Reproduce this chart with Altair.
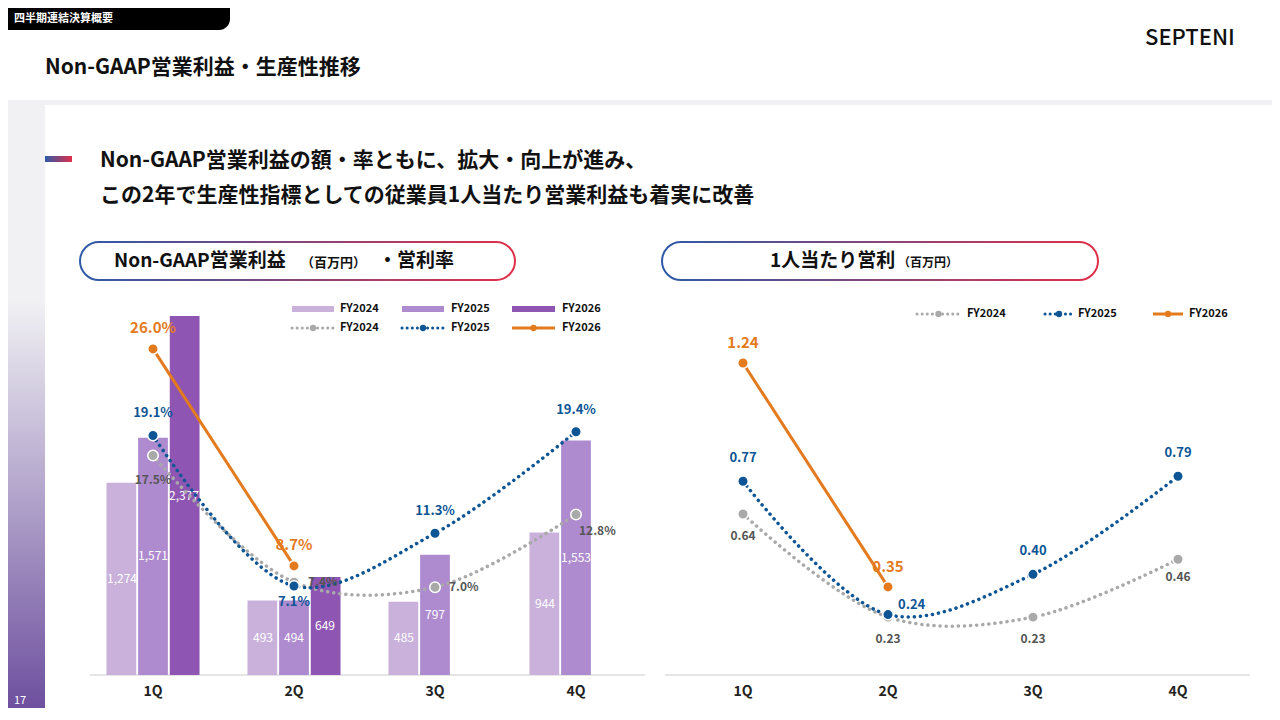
import altair as alt
import pandas as pd

FONT = "Noto Sans CJK JP"

quarters = ["1Q", "2Q", "3Q", "4Q"]
years = ["FY2024", "FY2025", "FY2026"]

# 営業利益（百万円）
profit_fy2024 = [1274, 493, 485, 944]
profit_fy2025 = [1571, 494, 797, 1553]
profit_fy2026 = [2377, 649]

# 営利率（%）
rate_fy2024 = [17.5, 7.4, 7.0, 12.8]
rate_fy2025 = [19.1, 7.1, 11.3, 19.4]
rate_fy2026 = [26.0, 8.7]

# 1人当たり営利（百万円）
per_fy2024 = [0.64, 0.23, 0.23, 0.46]
per_fy2025 = [0.77, 0.24, 0.40, 0.79]
per_fy2026 = [1.24, 0.35]

bar_colors = ["#c9b1dc", "#ae8ace", "#8e56b2"]
line_colors = {"FY2024": "#a9a9a9", "FY2025": "#0d5595", "FY2026": "#e47a1e"}


def P(v):
    return v - 8


def long(series, key):
    rows = []
    for y, vals in zip(years, series):
        for q, v in zip(quarters, vals):
            rows.append({"q": q, "year": y, key: v})
    return pd.DataFrame(rows)


bars = long([profit_fy2024, profit_fy2025, profit_fy2026], "v")
rates = long([rate_fy2024, rate_fy2025, rate_fy2026], "r")
per = long([per_fy2024, per_fy2025, per_fy2026], "p")

# scales
xb = alt.Scale(domain=quarters, range=[P(82.5), P(646.5)], paddingInner=0.34, paddingOuter=0.17)
xo = alt.Scale(domain=years, paddingInner=0.06)
yb = alt.Scale(domain=[0, 2550], range=[P(675), P(290)])
xl = alt.Scale(type="point", domain=quarters, range=[P(153), P(576)], padding=0)
yl = alt.Scale(domain=[0, 30.7], range=[P(675), P(290)])
xr = alt.Scale(type="point", domain=quarters, range=[P(743), P(1178)], padding=0)
yr = alt.Scale(domain=[0, 1.53], range=[P(675), P(290)])


def deco_text(t, x, y, size=13, color="#111", weight="bold", align="left"):
    return alt.Chart(pd.DataFrame({"t": [t]})).mark_text(
        font=FONT, fontSize=size, color=color, fontWeight=weight, align=align,
        baseline="middle",
    ).encode(text="t:N", x=alt.value(P(x)), y=alt.value(P(y)))


def deco_rect(x, x2, y, y2, **kw):
    return alt.Chart(pd.DataFrame({"a": [0]})).mark_rect(**kw).encode(
        x=alt.value(P(x)), x2=alt.value(P(x2)), y=alt.value(P(y)), y2=alt.value(P(y2)))


def deco_rule(x, x2, y, **kw):
    return alt.Chart(pd.DataFrame({"a": [0]})).mark_rule(**kw).encode(
        x=alt.value(P(x)), x2=alt.value(P(x2)), y=alt.value(P(y)))


def deco_dot(x, y, color, size=40):
    return alt.Chart(pd.DataFrame({"a": [0]})).mark_point(
        filled=True, size=size, color=color, opacity=1).encode(
        x=alt.value(P(x)), y=alt.value(P(y)))


grad = alt.Gradient(gradient="linear", x1=0, x2=1, y1=0, y2=0,
                    stops=[alt.GradientStop(color="#2e5aa8", offset=0),
                           alt.GradientStop(color="#e0304a", offset=1)])

layers = []
layers.append(deco_rect(0, 1280, 100, 720, color="#f1f1f4"))
layers.append(deco_rect(45, 1280, 105, 720, color="#ffffff"))
layers.append(deco_rect(0, 45, 300, 720, color=alt.Gradient(
    gradient="linear", x1=0, x2=0, y1=0, y2=1,
    stops=[alt.GradientStop(color="#f1f1f4", offset=0),
           alt.GradientStop(color="#6a4b9c", offset=1)])))
layers.append(deco_rect(8, 230, 8, 30, color="#000", cornerRadiusBottomRight=14))
layers.append(deco_text("四半期連結決算概要", 14, 19, size=11, color="#fff"))
layers.append(deco_text("Non-GAAP営業利益・生産性推移", 45, 68, size=21))
layers.append(deco_text("SEPTENI", 1145, 38, size=22, weight=500))
layers.append(deco_text("17", 14, 701, size=11, color="#fff", weight="normal"))
layers.append(deco_rect(45, 72, 156, 162, color=grad))
layers.append(deco_text("Non-GAAP営業利益の額・率ともに、拡大・向上が進み、", 100, 161, size=21))
layers.append(deco_text("この2年で生産性指標としての従業員1人当たり営業利益も着実に改善", 100, 196, size=21))

# panel pills
layers.append(deco_rect(80, 515, 242, 280, fill="#fff", stroke=grad, strokeWidth=2, cornerRadius=19))
layers.append(deco_rect(662, 1098, 242, 280, fill="#fff", stroke=grad, strokeWidth=2, cornerRadius=19))
layers.append(deco_text("Non-GAAP営業利益", 114, 261, size=19))
layers.append(deco_text("（百万円）", 301, 263, size=13))
layers.append(deco_text("・営利率", 378, 261, size=19))
layers.append(deco_text("1人当たり営利", 770, 261, size=19))
layers.append(deco_text("（百万円）", 898, 263, size=12))

# legends
lg = [(292, 334, 340), (402, 444, 451), (512, 555, 562)]
for (a, b, t), c, y in zip(lg, bar_colors, years):
    layers.append(deco_rect(a, b, 306, 312, color=c))
    layers.append(deco_text(y, t, 309, size=11))


def legend_line(a, b, yy, y):
    if y == "FY2026":
        out = [deco_rule(a, b, yy, color=line_colors[y], strokeWidth=3)]
    else:
        out = [deco_rule(a, b, yy, color=line_colors[y], strokeWidth=3, strokeDash=[0.1, 5], strokeCap="round")]
    out.append(deco_dot((a + b) / 2, yy, line_colors[y]))
    return out


for (a, b, t), y in zip(lg, years):
    layers += legend_line(a, b, 328, y)
    layers.append(deco_text(y, t, 328, size=11))
for (a, b, t), y in zip([(917, 960, 967), (1045, 1073, 1078), (1153, 1183, 1189)], years):
    layers += legend_line(a, b, 314, y)
    layers.append(deco_text(y, t, 314, size=11))

# axes baselines
layers.append(deco_rule(90, 645, 675, color="#cccccc"))
layers.append(deco_rule(665, 1250, 675, color="#cccccc"))
qdf = pd.DataFrame({"q": quarters})
tick_style = dict(font=FONT, fontSize=14, fontWeight="bold", color="#222")
layers.append(alt.Chart(qdf).mark_text(**tick_style).encode(
    x=alt.X("q:N", scale=xl, axis=None), y=alt.value(P(692)), text="q:N"))
layers.append(alt.Chart(qdf).mark_text(**tick_style).encode(
    x=alt.X("q:N", scale=xr, axis=None), y=alt.value(P(692)), text="q:N"))

# bars
color_b = alt.Color("year:N", scale=alt.Scale(domain=years, range=bar_colors), legend=None)
layers.append(alt.Chart(bars).mark_bar().encode(
    x=alt.X("q:N", scale=xb, axis=None), xOffset=alt.XOffset("year:N", scale=xo),
    y=alt.Y("v:Q", scale=yb, axis=None), color=color_b))
layers.append(alt.Chart(bars).transform_calculate(h="datum.v / 2").mark_text(
    font=FONT, fontSize=12, color="#fff").encode(
    x=alt.X("q:N", scale=xb, axis=None), xOffset=alt.XOffset("year:N", scale=xo),
    y=alt.Y("h:Q", scale=yb, axis=None), text=alt.Text("v:Q", format=",")))


def lines(df, field, xs, ys, labels, suffix=""):
    out = []
    for y in years:
        d = df[df.year == y]
        kw = dict(color=line_colors[y], interpolate="catmull-rom")
        if y == "FY2026":
            kw.update(strokeWidth=3)
        else:
            kw.update(strokeWidth=3.5, strokeDash=[0.1, 6], strokeCap="round")
        out.append(alt.Chart(d).mark_line(**kw).encode(
            x=alt.X("q:N", scale=xs, axis=None), y=alt.Y(f"{field}:Q", scale=ys, axis=None)))
    for y in years:
        d = df[df.year == y]
        out.append(alt.Chart(d).mark_point(
            filled=True, size=110, color=line_colors[y], stroke="#fff", strokeWidth=1.5,
            opacity=1).encode(
            x=alt.X("q:N", scale=xs, axis=None), y=alt.Y(f"{field}:Q", scale=ys, axis=None)))
    for y, qs, dx, dy, size, fmt in labels:
        d = df[(df.year == y) & (df.q.isin(qs))].copy()
        d["t"] = d[field].map(lambda v: format(v, fmt) + suffix)
        col = "#555555" if y == "FY2024" else line_colors[y]
        out.append(alt.Chart(d).mark_text(
            font=FONT, fontWeight="bold", fontSize=size, color=col, dx=dx, dy=dy,
            align="left" if dx > 2 else "center").encode(
            x=alt.X("q:N", scale=xs, axis=None), y=alt.Y(f"{field}:Q", scale=ys, axis=None),
            text="t:N"))
    return out


left_labels = [
    ("FY2026", ["1Q", "2Q"], 0, -21, 15, ".1f"),
    ("FY2025", ["1Q", "3Q", "4Q"], 0, -22, 13, ".1f"),
    ("FY2025", ["2Q"], 0, 16, 13, ".1f"),
    ("FY2024", ["1Q"], 0, 24, 12, ".1f"),
    ("FY2024", ["2Q", "3Q"], 14, 0, 12, ".1f"),
    ("FY2024", ["4Q"], 3, 17, 12, ".1f"),
]
layers += lines(rates, "r", xl, yl, left_labels, "%")

right_labels = [
    ("FY2026", ["1Q", "2Q"], 0, -20, 15, ".2f"),
    ("FY2025", ["1Q", "3Q", "4Q"], 0, -23, 13, ".2f"),
    ("FY2025", ["2Q"], 10, -10, 13, ".2f"),
    ("FY2024", ["1Q", "2Q", "3Q"], 0, 22, 12, ".2f"),
    ("FY2024", ["4Q"], 0, 18, 12, ".2f"),
]
layers += lines(per, "p", xr, yr, right_labels)

chart = alt.layer(*layers).resolve_scale(
    x="independent", y="independent", color="independent", xOffset="independent"
).properties(
    width=1264, height=700, autosize=alt.AutoSizeParams(type="none"), padding=0,
    background="#ffffff",
).configure_view(stroke=None)

chart.save("out.html", embed_options={"renderer": "svg", "actions": False})
